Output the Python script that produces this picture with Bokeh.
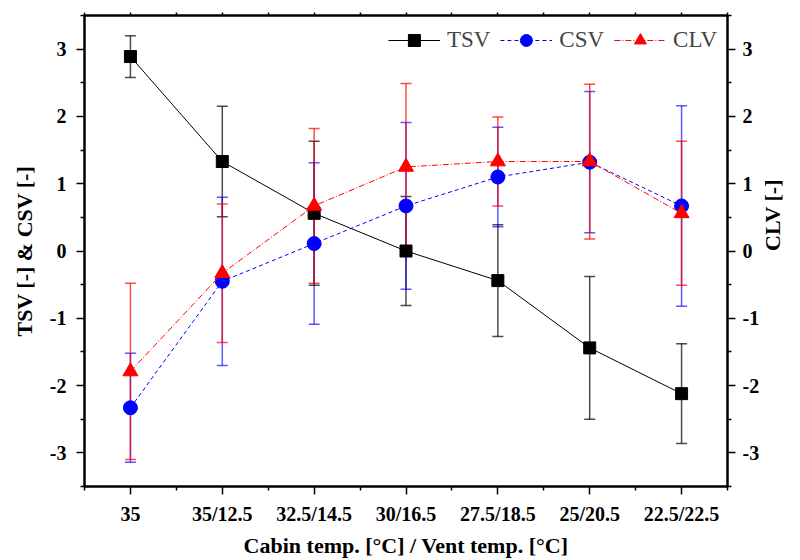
import math
from bokeh.plotting import figure
from bokeh.models import (ColumnDataSource, FixedTicker, LinearAxis, Range1d, Whisker,
                          TeeHead, Legend, LegendItem)
from bokeh.embed import file_html
from bokeh.resources import INLINE

categories = ["35", "35/12.5", "32.5/14.5", "30/16.5", "27.5/18.5", "25/20.5", "22.5/22.5"]
tsv = [2.89, 1.33, 0.56, 0.0, -0.44, -1.44, -2.12]
tsv_err = [0.31, 0.82, 1.07, 0.81, 0.83, 1.06, 0.74]
csv = [-2.33, -0.45, 0.11, 0.67, 1.10, 1.32, 0.67]
csv_err = [0.81, 1.25, 1.20, 1.24, 0.74, 1.05, 1.49]
clv = [-1.79, -0.33, 0.67, 1.25, 1.33, 1.33, 0.56]
clv_err = [1.31, 1.03, 1.15, 1.24, 0.66, 1.15, 1.07]
y_ticks = [-3, -2, -1, 0, 1, 2, 3]
y_tick_labels = ["-3", "-2", "-1", "0", "1", "2", "3"]

x = list(range(len(categories)))

def src(vals, errs):
    return ColumnDataSource(dict(x=x, y=vals,
                                 upper=[v + e for v, e in zip(vals, errs)],
                                 lower=[v - e for v, e in zip(vals, errs)]))

s_tsv = src(tsv, tsv_err)
s_csv = src(csv, csv_err)
s_clv = src(clv, clv_err)

FONT = "Liberation Serif"

p = figure(width=800, height=560, output_backend="svg", toolbar_location=None,
           x_range=Range1d(-0.5, len(categories) - 0.5), y_range=Range1d(-3.5, 3.5),
           min_border_left=84, min_border_right=72, min_border_top=15, min_border_bottom=72,
           y_axis_location=None)
p.xgrid.visible = False
p.ygrid.visible = False
p.outline_line_color = "black"
p.outline_line_width = 2
p.background_fill_color = "white"
p.border_fill_color = "white"
p.extra_y_ranges = {"clv": Range1d(-3.5, 3.5)}

x_minor = [i - 0.5 for i in range(len(categories) + 1)]
xt = FixedTicker(ticks=x, minor_ticks=x_minor)
yt = FixedTicker(ticks=y_ticks, minor_ticks=[v + 0.5 for v in range(-4, 4)])
y_over = {t: l for t, l in zip(y_ticks, y_tick_labels)}

def style(ax, ticker):
    ax.ticker = ticker
    ax.axis_line_width = 2
    ax.axis_line_color = "black"
    ax.major_tick_line_width = 1.5
    ax.minor_tick_line_width = 1.5
    ax.major_tick_in = 0
    ax.minor_tick_in = 0
    ax.major_tick_out = 8
    ax.minor_tick_out = 4
    ax.major_label_text_font = FONT
    ax.major_label_text_font_style = "bold"
    ax.major_label_text_font_size = "20px"
    ax.major_label_text_color = "black"
    ax.axis_label_text_font = FONT
    ax.axis_label_text_font_style = "bold"
    ax.axis_label_text_font_size = "22px"
    ax.axis_label_text_color = "black"

# bottom axis
xa = p.xaxis[0]
style(xa, xt)
xa.major_label_overrides = {i: c for i, c in enumerate(categories)}
xa.major_label_standoff = 8
xa.axis_label = "Cabin temp. [°C] / Vent temp. [°C]"
xa.axis_label_standoff = 5

# left axis
ya = LinearAxis()
style(ya, yt)
ya.major_label_overrides = y_over
ya.axis_label = "TSV [-] & CSV [-]"
ya.major_label_standoff = 10
ya.axis_label_standoff = 10
p.add_layout(ya, "left")

# right axis
yr = LinearAxis(y_range_name="clv")
style(yr, yt)
yr.major_label_overrides = y_over
yr.axis_label = "CLV [-]"
yr.axis_label_orientation = math.pi / 2
yr.major_label_standoff = 7
yr.axis_label_standoff = 10
p.add_layout(yr, "right")

# top axis (ticks only)
xtop = LinearAxis(ticker=FixedTicker(ticks=[], minor_ticks=x_minor + x))
xtop.axis_line_width = 2
xtop.minor_tick_line_width = 1.5
xtop.minor_tick_in = 0
xtop.minor_tick_out = 3
xtop.major_label_text_font_size = "0px"
p.add_layout(xtop, "above")

# error bars
for s, col, alpha in [(s_tsv, "black", 0.7), (s_csv, "blue", 0.65), (s_clv, "red", 0.7)]:
    w = Whisker(base="x", upper="upper", lower="lower", source=s, dimension="height",
                line_color=col, line_width=1.5, line_alpha=alpha,
                upper_head=TeeHead(size=11, line_color=col, line_width=1.5, line_alpha=alpha),
                lower_head=TeeHead(size=11, line_color=col, line_width=1.5, line_alpha=alpha))
    if col == "red":
        w.y_range_name = "clv"
    p.add_layout(w)

l_tsv = p.line("x", "y", source=s_tsv, line_color="black", line_width=1)
m_tsv = p.scatter("x", "y", source=s_tsv, marker="square", size=12, fill_color="black", line_color="black")
l_csv = p.line("x", "y", source=s_csv, line_color="blue", line_width=1, line_dash="4 3")
m_csv = p.scatter("x", "y", source=s_csv, marker="circle", size=14, fill_color="blue", line_color="blue")
l_clv = p.line("x", "y", source=s_clv, line_color="red", line_width=1, line_dash="6 2 1 2",
               y_range_name="clv")
m_clv = p.scatter("x", "y", source=s_clv, marker="triangle", size=15, fill_color="red", line_color="red",
                  y_range_name="clv")

legend = Legend(items=[LegendItem(label="TSV", renderers=[l_tsv, m_tsv]),
                       LegendItem(label="CSV", renderers=[l_csv, m_csv]),
                       LegendItem(label="CLV", renderers=[l_clv, m_clv])],
                orientation="horizontal", location="top_right",
                border_line_color=None, background_fill_alpha=0,
                label_text_font=FONT, label_text_font_size="23px",
                glyph_width=52, glyph_height=30, label_standoff=7, spacing=10,
                padding=6, margin=10)
p.add_layout(legend)

open("out.html", "w").write(file_html(p, INLINE))
